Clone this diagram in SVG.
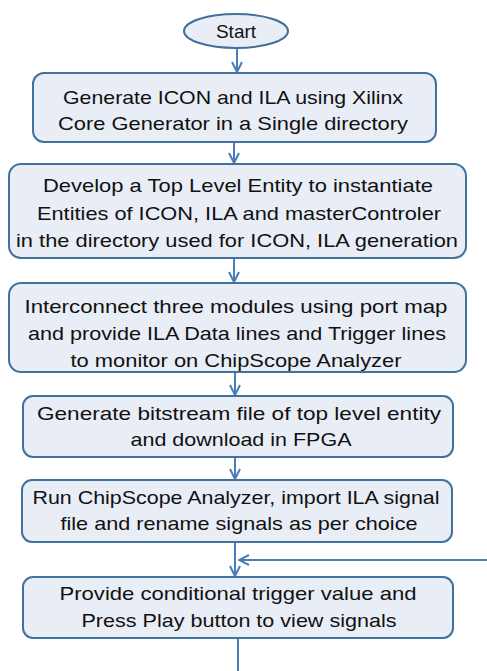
<svg xmlns="http://www.w3.org/2000/svg" width="487" height="671" viewBox="0 0 487 671">
<style>
.box{fill:#e8edf6;stroke:#41719c;stroke-width:2}
.t{font-family:"Liberation Sans",Arial,sans-serif;font-size:19px;fill:#111;text-anchor:middle}
.c{fill:none;stroke:#4a7ebb;stroke-width:2}
</style>
<defs>
<marker id="ah" viewBox="0 0 12 12" refX="11" refY="6" markerWidth="12" markerHeight="12" markerUnits="userSpaceOnUse" orient="auto">
<path d="M1,1 L11,6 L1,11" fill="none" stroke="#4a7ebb" stroke-width="2"/>
</marker>
</defs>
<rect width="487" height="671" fill="#fff"/>
<g id="connectors">
<line class="c" x1="237" y1="48" x2="237" y2="72" marker-end="url(#ah)"/>
<line class="c" x1="234" y1="142" x2="234" y2="163" marker-end="url(#ah)"/>
<line class="c" x1="234" y1="258" x2="234" y2="282" marker-end="url(#ah)"/>
<line class="c" x1="235" y1="372" x2="235" y2="395" marker-end="url(#ah)"/>
<line class="c" x1="235" y1="457" x2="235" y2="479" marker-end="url(#ah)"/>
<line class="c" x1="235" y1="542" x2="235" y2="576" marker-end="url(#ah)"/>
<line class="c" x1="487" y1="560" x2="239" y2="560" marker-end="url(#ah)"/>
<line class="c" x1="238" y1="638" x2="238" y2="671"/>
</g>
<g id="start">
<ellipse class="box" cx="236" cy="31" rx="52" ry="17"/>
<text class="t" x="236" y="38" font-size="20">Start</text>
</g>
<g id="n1">
<rect class="box" x="33" y="73" width="403" height="69" rx="11"/>
<text class="t" x="233" y="104" textLength="340" lengthAdjust="spacingAndGlyphs">Generate ICON and ILA using Xilinx</text>
<text class="t" x="233" y="130" textLength="350" lengthAdjust="spacingAndGlyphs">Core Generator in a Single directory</text>
</g>
<g id="n2">
<rect class="box" x="9" y="164" width="457" height="94" rx="12"/>
<text class="t" x="238" y="192" textLength="390" lengthAdjust="spacingAndGlyphs">Develop a Top Level Entity to instantiate</text>
<text class="t" x="239" y="220" textLength="404" lengthAdjust="spacingAndGlyphs">Entities of ICON, ILA and masterControler</text>
<text class="t" x="237" y="247" textLength="442" lengthAdjust="spacingAndGlyphs">in the directory used for ICON, ILA generation</text>
</g>
<g id="n3">
<rect class="box" x="9" y="283" width="457" height="89" rx="12"/>
<text class="t" x="236" y="313" textLength="423" lengthAdjust="spacingAndGlyphs">Interconnect three modules using port map</text>
<text class="t" x="237" y="340" textLength="418" lengthAdjust="spacingAndGlyphs">and provide ILA Data lines and Trigger lines</text>
<text class="t" x="236" y="367" textLength="331" lengthAdjust="spacingAndGlyphs">to monitor on ChipScope Analyzer</text>
</g>
<g id="n4">
<rect class="box" x="23" y="396" width="430" height="61" rx="10"/>
<text class="t" x="239" y="420" textLength="404" lengthAdjust="spacingAndGlyphs">Generate bitstream file of top level entity</text>
<text class="t" x="241" y="446" textLength="221" lengthAdjust="spacingAndGlyphs">and download in FPGA</text>
</g>
<g id="n5">
<rect class="box" x="22" y="480" width="430" height="62" rx="10"/>
<text class="t" x="236" y="504" textLength="407" lengthAdjust="spacingAndGlyphs">Run ChipScope Analyzer, import ILA signal</text>
<text class="t" x="239" y="530" textLength="357" lengthAdjust="spacingAndGlyphs">file and rename signals as per choice</text>
</g>
<g id="n6">
<rect class="box" x="23" y="577" width="430" height="61" rx="10"/>
<text class="t" x="238" y="600" textLength="357" lengthAdjust="spacingAndGlyphs">Provide conditional trigger value and</text>
<text class="t" x="239" y="627" textLength="315" lengthAdjust="spacingAndGlyphs">Press Play button to view signals</text>
</g>
</svg>
